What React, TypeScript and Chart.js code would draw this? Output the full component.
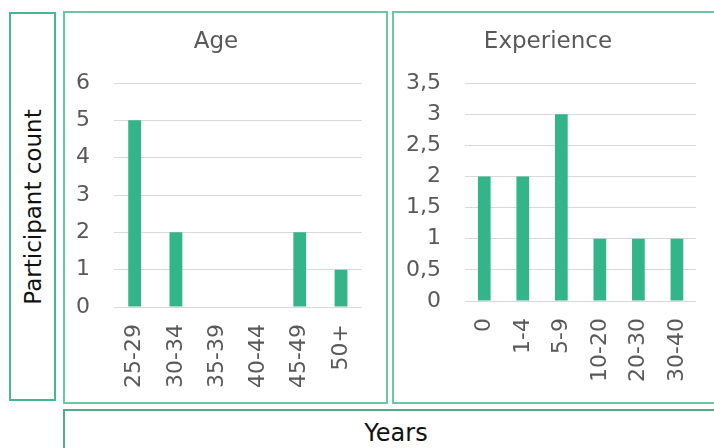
import React, { useEffect, useRef } from 'react';
import { Chart, registerables } from 'chart.js';

Chart.register(...registerables);

const ageCategories = ['25-29', '30-34', '35-39', '40-44', '45-49', '50+'];
const ageCounts = [5, 2, 0, 0, 2, 1];
const ageMax = 6;
const ageStep = 1;

const expCategories = ['0', '1-4', '5-9', '10-20', '20-30', '30-40'];
const expCounts = [2, 2, 3, 1, 1, 1];
const expMax = 3.5;
const expStep = 0.5;

const FONT = '"DejaVu Sans", sans-serif';
const TEXT_GRAY = '#595959';
const BAR_GREEN = '#33b589';
const GRID_GRAY = '#d9d9d9';

type PanelProps = {
  title: string;
  labels: string[];
  values: number[];
  max: number;
  step: number;
  width: number;
  height: number;
  yWidth: number;
  xHeight: number;
  padRight: number;
  barPct: number;
};

function BarPanel(p: PanelProps) {
  const ref = useRef<HTMLCanvasElement | null>(null);
  useEffect(() => {
    if (!ref.current) return;
    const chart = new Chart(ref.current, {
      type: 'bar',
      data: {
        labels: p.labels,
        datasets: [
          {
            data: p.values,
            backgroundColor: BAR_GREEN,
            borderWidth: 0,
            barPercentage: p.barPct,
            categoryPercentage: 1,
          },
        ],
      },
      options: {
        responsive: false,
        animation: false,
        devicePixelRatio: 1,
        layout: { padding: { left: 0, right: p.padRight, top: 0, bottom: 0 } },
        plugins: {
          legend: { display: false },
          tooltip: { enabled: false },
          title: {
            display: true,
            text: p.title,
            color: TEXT_GRAY,
            font: { family: FONT, size: 23, weight: 'normal', lineHeight: 1.2 },
            padding: { top: 15.2, bottom: 27.2 },
          },
        },
        scales: {
          x: {
            grid: { display: false, drawTicks: false },
            border: { display: false },
            ticks: {
              color: TEXT_GRAY,
              font: { family: FONT, size: 22 },
              minRotation: 90,
              maxRotation: 90,
              autoSkip: false,
              padding: 17,
            },
            afterFit: (s: any) => {
              s.height = p.xHeight;
            },
          },
          y: {
            min: 0,
            max: p.max,
            grid: { color: GRID_GRAY, lineWidth: 1, drawTicks: false },
            border: { display: false },
            ticks: {
              stepSize: p.step,
              color: TEXT_GRAY,
              font: { family: FONT, size: 22 },
              padding: 24,
              callback: (v: any) => String(v).replace('.', ','),
            },
            afterFit: (s: any) => {
              s.width = p.yWidth;
            },
          },
        },
      },
    });
    return () => chart.destroy();
  }, []);
  return <canvas ref={ref} width={p.width} height={p.height} style={{ display: 'block' }} />;
}

export default function App() {
  const panelBorder = '2px solid #6cc6a4';
  return (
    <div
      style={{
        position: 'fixed',
        left: 0,
        top: 0,
        width: 714,
        height: 448,
        overflow: 'hidden',
        background: '#fff',
        fontFamily: FONT,
      }}
    >
      {/* Left y-label box */}
      <div
        style={{
          position: 'absolute',
          left: 9,
          top: 12,
          width: 43,
          height: 385,
          border: '2px solid #45b98c',
          boxSizing: 'content-box',
        }}
      >
        <div
          style={{
            position: 'absolute',
            left: '50%',
            top: '50%',
            transform: 'translate(-50%, -50%) rotate(-90deg)',
            whiteSpace: 'nowrap',
            fontSize: 23,
            color: '#111',
          }}
        >
          Participant count
        </div>
      </div>

      {/* Age panel */}
      <div
        style={{
          position: 'absolute',
          left: 63,
          top: 11,
          width: 321,
          height: 389,
          border: panelBorder,
        }}
      >
        <BarPanel
          title="Age"
          labels={ageCategories}
          values={ageCounts}
          max={ageMax}
          step={ageStep}
          width={321}
          height={389}
          yWidth={49}
          xHeight={95}
          padRight={19}
          barPct={0.31}
        />
      </div>

      {/* Experience panel */}
      <div
        style={{
          position: 'absolute',
          left: 392,
          top: 11,
          width: 328,
          height: 389,
          border: panelBorder,
        }}
      >
        <BarPanel
          title="Experience"
          labels={expCategories}
          values={expCounts}
          max={expMax}
          step={expStep}
          width={328}
          height={389}
          yWidth={71}
          xHeight={101}
          padRight={20}
          barPct={0.33}
        />
      </div>

      {/* Bottom x-label box */}
      <div
        style={{
          position: 'absolute',
          left: 63,
          top: 409,
          width: 700,
          height: 80,
          border: '2px solid #50ad8a',
        }}
      >
        <div
          style={{
            position: 'absolute',
            left: 330 - 63 - 1,
            width: 130,
            top: 7,
            textAlign: 'center',
            fontSize: 24,
            color: '#111',
            lineHeight: '30px',
          }}
        >
          Years
        </div>
      </div>
    </div>
  );
}
